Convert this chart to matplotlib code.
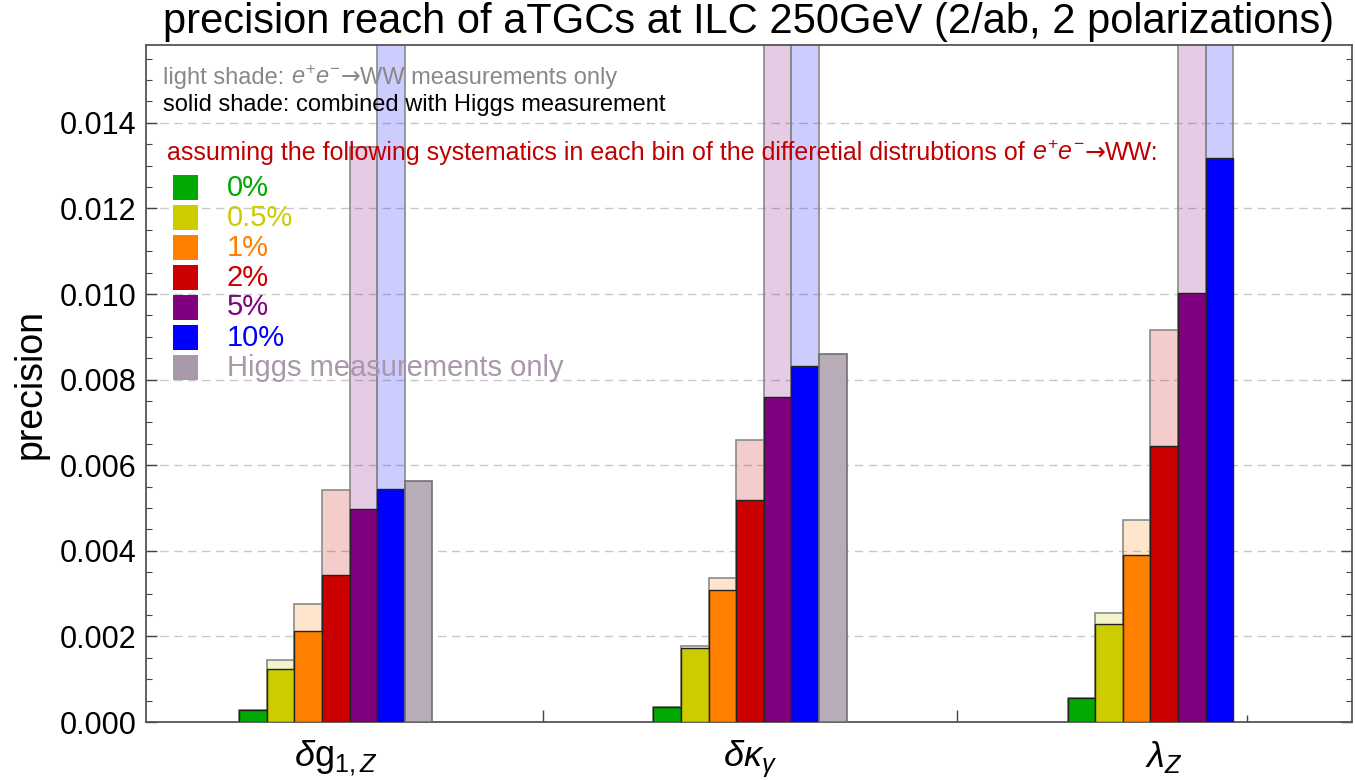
import matplotlib
matplotlib.use('Agg')
import matplotlib.pyplot as plt
from matplotlib.patches import Rectangle
from matplotlib.ticker import MultipleLocator, FormatStrFormatter

plt.rcParams['font.family'] = ['Liberation Sans', 'DejaVu Sans']
plt.rcParams['mathtext.fontset'] = 'custom'
plt.rcParams['mathtext.rm'] = 'Liberation Sans'
plt.rcParams['mathtext.it'] = 'Liberation Sans:italic'
plt.rcParams['mathtext.bf'] = 'Liberation Sans:bold'

# couplings (groups on the x axis)
couplings = [r'$\delta\mathrm{g}_{1,Z}$', r'$\delta\kappa_{\gamma}$', r'$\lambda_{Z}$']

# systematics in each bin
systematics = ['0%', '0.5%', '1%', '2%', '5%', '10%']
sys_colors = ['#00aa00', '#cccc00', '#ff8000', '#cc0000', '#800080', '#0000ff']

# e+e- -> WW measurements only (light shade), one list per coupling
ww_only_g1z = [0.00029, 0.00146, 0.00276, 0.00541, 0.01344, 0.0170]
ww_only_kg = [0.00034, 0.00178, 0.00336, 0.00660, 0.0175, 0.0180]
ww_only_lz = [0.00055, 0.00254, 0.00471, 0.00916, 0.0180, 0.0190]

# combined with Higgs measurement (solid shade)
combined_g1z = [0.00029, 0.00125, 0.00212, 0.00343, 0.00497, 0.00544]
combined_kg = [0.00034, 0.00173, 0.00308, 0.00518, 0.00760, 0.00832]
combined_lz = [0.00055, 0.00228, 0.00391, 0.00645, 0.01002, 0.01318]

# Higgs measurements only (no value for lambda_Z)
higgs_only = [0.00562, 0.00861, None]
higgs_color = '#b7acb8'

ww_only = [ww_only_g1z, ww_only_kg, ww_only_lz]
combined = [combined_g1z, combined_kg, combined_lz]

W, H = 1355, 780
fig = plt.figure(figsize=(W / 100, H / 100), dpi=100)
ax = fig.add_axes([146 / W, 1 - 722 / H, (1352 - 146) / W, (722 - 45) / H])

group_step = 15
for g in range(len(couplings)):
    x0 = g * group_step
    for i in range(len(systematics)):
        ax.bar(x0 + i, ww_only[g][i], width=1.0, color=sys_colors[i], alpha=0.2,
               edgecolor='none', zorder=2)
        ax.bar(x0 + i, ww_only[g][i], width=1.0, facecolor='none',
               edgecolor='#8a8a8a', linewidth=1.2, zorder=2)
        ax.bar(x0 + i, combined[g][i], width=1.0, color=sys_colors[i],
               edgecolor='#222222', linewidth=1.0, zorder=3)
    if higgs_only[g] is not None:
        ax.bar(x0 + len(systematics), higgs_only[g], width=1.0, color=higgs_color,
               edgecolor='#707070', linewidth=1.2, zorder=3)

ax.set_xlim(-3.87, 39.8)
ax.set_ylim(0, 0.01582)

ax.yaxis.set_major_locator(MultipleLocator(0.002))
ax.yaxis.set_minor_locator(MultipleLocator(0.0005))
ax.yaxis.set_major_formatter(FormatStrFormatter('%.3f'))
ax.grid(axis='y', which='major', color='#c8c8c8', linestyle=(0, (6, 4)), linewidth=1.0, zorder=0)

bar_centers = [g * group_step + i for g in range(3) for i in range(7)]
ax.set_xticks([10.5, 25.5])
ax.set_xticklabels([])
ax.set_xticks(bar_centers, minor=True)
ax.tick_params(axis='x', which='major', direction='in', length=9, width=1.0, color='#444444')
ax.tick_params(axis='x', which='minor', direction='in', length=5, width=1.0, color='#444444')
ax.tick_params(axis='y', which='major', direction='in', length=8, width=1.0, color='#444444',
               labelsize=22, pad=7, right=True)
ax.tick_params(axis='y', which='minor', direction='in', length=4, width=0.8, color='#444444', right=True)

for s in ax.spines.values():
    s.set_color('#555555')
    s.set_linewidth(1.3)

for g, name in enumerate(couplings):
    ax.text(g * group_step + 3, -0.025, name, transform=ax.get_xaxis_transform(),
            ha='center', va='top', fontsize=26)

ax.set_ylabel('precision', fontsize=27, labelpad=8)
fig.text(749 / W, 1 - 22 / H, 'precision reach of aTGCs at ILC 250GeV (2/ab, 2 polarizations)',
         ha='center', va='center', fontsize=30)


def chain(x, y, pieces, size, color):
    # write pieces one after another, the arrow taken from DejaVu Sans
    t = ax.annotate(pieces[0], xy=(x, y), xycoords='figure fraction', ha='left', va='baseline',
                    fontsize=size, color=color)
    for p in pieces[1:]:
        fam = ['DejaVu Sans'] if p == '→' else ['Liberation Sans', 'DejaVu Sans']
        t = ax.annotate(p, xy=(1, 0), xycoords=t, ha='left', va='bottom',
                        fontsize=size, color=color, family=fam, annotation_clip=False)


# explanation texts
chain(163 / W, 1 - 84 / H, ['light shade: ', r'$e^{+}e^{-}$', '→', 'WW measurements only'],
      17, '#888888')
fig.text(163 / W, 1 - 105 / H, 'solid shade: combined with Higgs measurement',
         ha='left', va='center', fontsize=17, color='black')
chain(167 / W, 1 - 160 / H,
      ['assuming the following systematics in each bin of the differetial distrubtions of ',
       r'$e^{+}e^{-}$', '→', 'WW:'], 18, '#c00000')

# hand made legend
leg_labels = systematics + ['Higgs measurements only']
leg_colors = sys_colors + ['#a898aa']
for k, (lab, col) in enumerate(zip(leg_labels, leg_colors)):
    yc = 187.5 + 30 * k
    fig.add_artist(Rectangle((173 / W, 1 - (yc + 12.5) / H), 25 / W, 25 / H,
                             transform=fig.transFigure, facecolor=col, edgecolor='none'))
    fig.text(227 / W, 1 - yc / H, lab, ha='left', va='center', fontsize=21, color=col)

fig.savefig('out.png', dpi=100)
